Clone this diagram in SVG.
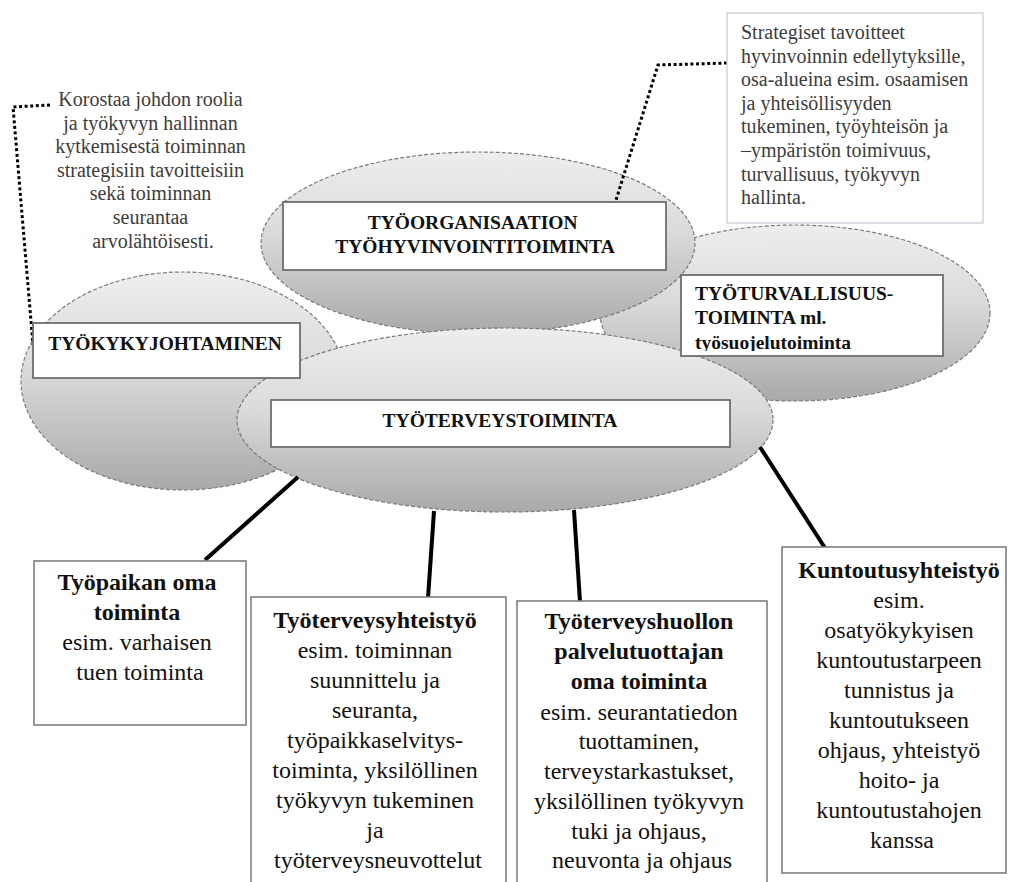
<svg xmlns="http://www.w3.org/2000/svg" width="1011" height="882" viewBox="0 0 1011 882" font-family="Liberation Serif, DejaVu Serif, serif">
  <defs>
    <linearGradient id="shade" x1="0" y1="0" x2="0" y2="1">
      <stop offset="0" stop-color="#eeeeee"/>
      <stop offset="0.45" stop-color="#dadada"/>
      <stop offset="1" stop-color="#a9a9a9"/>
    </linearGradient>
    <clipPath id="clip-turva">
      <rect x="681" y="275" width="262" height="76"/>
    </clipPath>
  </defs>
  <style>
    text { font-family: 'Liberation Serif', 'DejaVu Serif', serif; }
    .area { fill: url(#shade); stroke: #7a7a7a; stroke-width: 1.2; stroke-dasharray: 4 2; }
    .label { fill: #ffffff; stroke: #6e6e6e; stroke-width: 1.8; }
    .card { fill: #ffffff; stroke: #7f7f7f; stroke-width: 1.6; }
    .note-box { fill: #ffffff; stroke: #cfd3dc; stroke-width: 1.5; }
    .cap { font-weight: bold; font-size: 19.5px; fill: #111111; }
    .note { font-size: 20px; fill: #3c3c3c; }
    .card-text { font-size: 24px; fill: #111111; text-anchor: middle; }
    .card-text .b { font-weight: bold; }
    .link { stroke: #000000; stroke-width: 4; fill: none; }
    .dots { stroke: #000000; stroke-width: 3; fill: none; stroke-dasharray: 3 2.6; }
  </style>

  <rect width="1011" height="882" fill="#ffffff"/>

  <!-- overlapping activity areas, back to front -->
  <g id="areas">
    <ellipse id="area-turvallisuus" class="area" cx="795" cy="313" rx="195" ry="88"/>
    <ellipse id="area-tyokyky" class="area" cx="183" cy="381" rx="162" ry="109"/>
    <ellipse id="area-organisaatio" class="area" cx="478" cy="243" rx="217" ry="91"/>
    <ellipse id="area-terveys" class="area" cx="505" cy="420" rx="268" ry="92"/>
  </g>

  <!-- connectors -->
  <g id="connectors">
    <line class="link" x1="298" y1="477" x2="205" y2="560"/>
    <line class="link" x1="434" y1="511" x2="428" y2="598"/>
    <line class="link" x1="574" y1="510" x2="580" y2="602"/>
    <line class="link" x1="760" y1="447" x2="825" y2="548"/>
    <polyline class="dots" points="50,105 13,107 33,345"/>
    <polyline class="dots" points="727,63 658,65 612,213"/>
  </g>

  <!-- annotation: left -->
  <g id="note-johto">
    <text class="note" text-anchor="middle">
      <tspan x="153" y="106">Korostaa johdon roolia</tspan>
      <tspan x="153" y="129.6">ja  työkyvyn hallinnan</tspan>
      <tspan x="153" y="153.2">kytkemisestä toiminnan</tspan>
      <tspan x="153" y="176.8">strategisiin tavoitteisiin</tspan>
      <tspan x="153" y="200.4">sekä toiminnan</tspan>
      <tspan x="153" y="224">seurantaa</tspan>
      <tspan x="153" y="247.6">arvolähtöisesti.</tspan>
    </text>
  </g>

  <!-- annotation: right -->
  <g id="note-strategia">
    <rect class="note-box" x="727" y="13" width="256" height="210"/>
    <text class="note">
      <tspan x="741" y="39">Strategiset tavoitteet</tspan>
      <tspan x="741" y="62.6">hyvinvoinnin edellytyksille,</tspan>
      <tspan x="741" y="86.2">osa-alueina esim. osaamisen</tspan>
      <tspan x="741" y="109.8">ja yhteisöllisyyden</tspan>
      <tspan x="741" y="133.4">tukeminen, työyhteisön ja</tspan>
      <tspan x="741" y="157">–ympäristön toimivuus,</tspan>
      <tspan x="741" y="180.6">turvallisuus, työkyvyn</tspan>
      <tspan x="741" y="204.2">hallinta.</tspan>
    </text>
  </g>

  <!-- area labels -->
  <g id="node-organisaatio">
    <rect class="label" x="283" y="202" width="383" height="68"/>
    <text class="cap" text-anchor="middle">
      <tspan x="475" y="229">TYÖORGANISAATION</tspan>
      <tspan x="475" y="253">TYÖHYVINVOINTITOIMINTA</tspan>
    </text>
  </g>

  <g id="node-tyokykyjohtaminen">
    <rect class="label" x="33" y="323" width="267" height="55"/>
    <text class="cap" x="165" y="350" text-anchor="middle">TYÖKYKYJOHTAMINEN</text>
  </g>

  <g id="node-turvallisuus">
    <rect class="label" x="681" y="275" width="262" height="81"/>
    <text class="cap" clip-path="url(#clip-turva)">
      <tspan x="695" y="300">TYÖTURVALLISUUS-</tspan>
      <tspan x="695" y="324">TOIMINTA ml.</tspan>
      <tspan x="695" y="349">työsuojelutoiminta</tspan>
    </text>
  </g>

  <g id="node-terveys">
    <rect class="label" x="271" y="400" width="459" height="47"/>
    <text class="cap" x="500" y="427" text-anchor="middle">TYÖTERVEYSTOIMINTA</text>
  </g>

  <!-- activity cards -->
  <g id="card-tyopaikka">
    <rect class="card" x="34" y="561" width="212" height="164"/>
    <text class="card-text">
      <tspan class="b" x="140" y="590">Työpaikan oma</tspan>
      <tspan class="b" x="140" y="620">toiminta</tspan>
      <tspan x="140" y="650">esim. varhaisen</tspan>
      <tspan x="140" y="680">tuen toiminta</tspan>
    </text>
  </g>

  <g id="card-yhteistyo">
    <rect class="card" x="251" y="597" width="255" height="300"/>
    <text class="card-text">
      <tspan class="b" x="378" y="628">Työterveysyhteistyö</tspan>
      <tspan x="378" y="658">esim. toiminnan</tspan>
      <tspan x="378" y="688">suunnittelu ja</tspan>
      <tspan x="378" y="718">seuranta,</tspan>
      <tspan x="378" y="748">työpaikkaselvitys-</tspan>
      <tspan x="378" y="778">toiminta, yksilöllinen</tspan>
      <tspan x="378" y="808">työkyvyn tukeminen</tspan>
      <tspan x="378" y="838">ja</tspan>
      <tspan x="378" y="868">työterveysneuvottelut</tspan>
    </text>
  </g>

  <g id="card-palvelutuottaja">
    <rect class="card" x="517" y="601" width="250" height="300"/>
    <text class="card-text">
      <tspan class="b" x="642" y="629">Työterveyshuollon</tspan>
      <tspan class="b" x="642" y="659">palvelutuottajan</tspan>
      <tspan class="b" x="642" y="689">oma toiminta</tspan>
      <tspan x="642" y="720">esim. seurantatiedon</tspan>
      <tspan x="642" y="749">tuottaminen,</tspan>
      <tspan x="642" y="779">terveystarkastukset,</tspan>
      <tspan x="642" y="809">yksilöllinen työkyvyn</tspan>
      <tspan x="642" y="839">tuki ja ohjaus,</tspan>
      <tspan x="642" y="868">neuvonta ja ohjaus</tspan>
    </text>
  </g>

  <g id="card-kuntoutus">
    <rect class="card" x="782" y="547" width="224" height="326"/>
    <text class="card-text">
      <tspan class="b" x="902" y="578">Kuntoutusyhteistyö</tspan>
      <tspan x="902" y="608">esim.</tspan>
      <tspan x="902" y="638">osatyökykyisen</tspan>
      <tspan x="902" y="668">kuntoutustarpeen</tspan>
      <tspan x="902" y="698">tunnistus ja</tspan>
      <tspan x="902" y="728">kuntoutukseen</tspan>
      <tspan x="902" y="758">ohjaus, yhteistyö</tspan>
      <tspan x="902" y="788">hoito- ja</tspan>
      <tspan x="902" y="818">kuntoutustahojen</tspan>
      <tspan x="902" y="848">kanssa</tspan>
    </text>
  </g>
</svg>
